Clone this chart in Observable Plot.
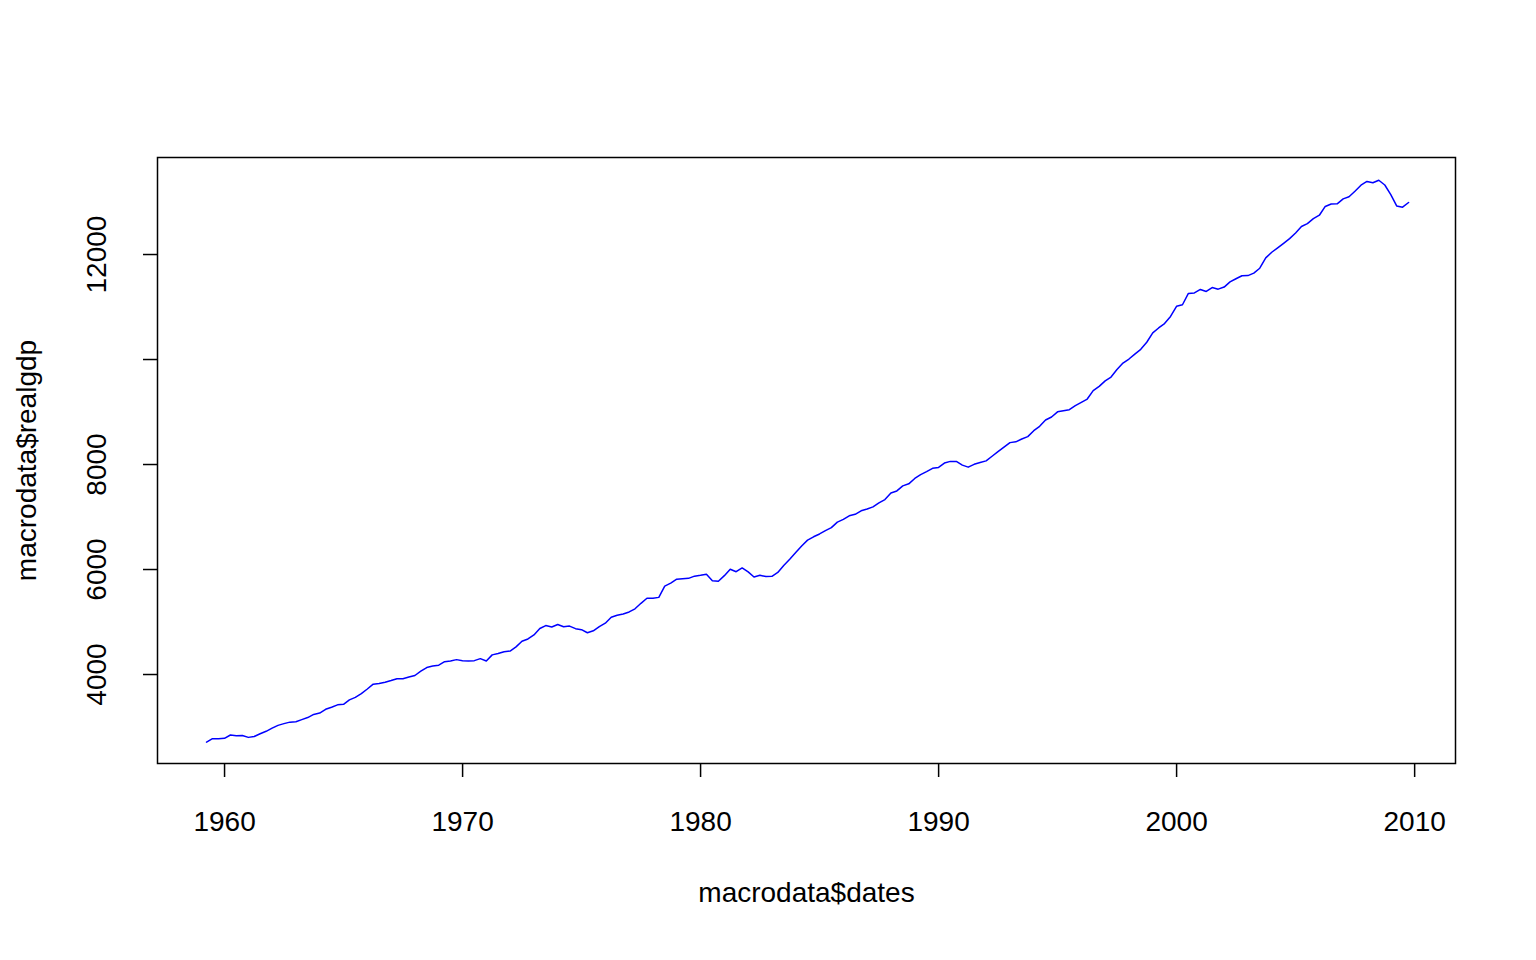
<!DOCTYPE html>
<html>
<head>
<meta charset="utf-8">
<script src="https://cdn.jsdelivr.net/npm/d3@7"></script>
<script src="https://cdn.jsdelivr.net/npm/@observablehq/plot@0.6"></script>
<style>
  body { margin: 0; background: #fff; }
  #chart svg { font-family: "Liberation Sans", Arial, sans-serif; }
</style>
</head>
<body>
<div id="chart"></div>
<script>
// quarterly real GDP, 1959Q1 .. 2009Q3
const realgdp = [
  2710.349, 2778.801, 2775.488, 2785.204,
  2847.699, 2834.39, 2839.022, 2802.616,
  2819.264, 2872.005, 2918.419, 2977.83,
  3031.241, 3064.709, 3093.047, 3100.563,
  3141.087, 3180.447, 3240.332, 3264.967,
  3338.246, 3376.587, 3422.469, 3431.957,
  3516.251, 3563.96, 3636.285, 3724.014,
  3815.423, 3828.124, 3853.301, 3884.52,
  3918.74, 3919.556, 3950.826, 3980.97,
  4063.013, 4131.998, 4160.267, 4178.293,
  4244.1, 4256.46, 4283.378, 4263.261,
  4256.573, 4264.289, 4302.259, 4256.637,
  4374.016, 4398.829, 4433.943, 4446.264,
  4525.769, 4633.101, 4677.503, 4754.546,
  4876.166, 4932.571, 4906.252, 4953.05,
  4909.617, 4922.188, 4873.52, 4854.34,
  4795.295, 4831.942, 4913.328, 4977.511,
  5090.695, 5128.947, 5154.072, 5191.499,
  5251.762, 5356.131, 5451.921, 5450.793,
  5469.405, 5684.569, 5740.3, 5816.222,
  5825.949, 5831.418, 5873.335, 5889.495,
  5908.467, 5787.373, 5776.617, 5883.026,
  6005.717, 5957.795, 6030.184, 5955.062,
  5857.333, 5889.074, 5866.37, 5871.001,
  5944.02, 6077.619, 6197.468, 6325.574,
  6448.264, 6559.594, 6623.343, 6677.264,
  6740.275, 6797.344, 6903.523, 6955.918,
  7022.757, 7050.969, 7118.95, 7153.359,
  7193.019, 7269.51, 7332.558, 7458.022,
  7496.6, 7592.881, 7632.082, 7733.991,
  7806.603, 7865.016, 7927.393, 7944.697,
  8027.693, 8059.598, 8059.476, 7988.864,
  7950.164, 8003.822, 8037.538, 8069.046,
  8157.616, 8244.294, 8329.361, 8417.016,
  8432.485, 8486.435, 8531.108, 8643.769,
  8727.919, 8847.303, 8904.289, 9003.18,
  9025.267, 9044.668, 9120.684, 9184.275,
  9247.188, 9407.052, 9488.879, 9592.458,
  9666.235, 9809.551, 9932.672, 10008.874,
  10103.425, 10194.277, 10328.787, 10507.575,
  10601.179, 10684.049, 10819.914, 11014.254,
  11043.044, 11258.454, 11267.867, 11334.544,
  11297.171, 11371.251, 11340.075, 11380.128,
  11477.868, 11538.77, 11596.43, 11598.824,
  11645.819, 11738.706, 11935.461, 12042.817,
  12127.623, 12213.818, 12303.533, 12410.282,
  12534.113, 12587.535, 12683.153, 12748.699,
  12915.938, 12962.462, 12965.916, 13060.679,
  13099.901, 13203.977, 13321.109, 13391.249,
  13366.865, 13415.266, 13324.6, 13141.92,
  12925.41, 12901.504, 12990.341
];
const startYear = 1959;
const xTicks = [1960, 1970, 1980, 1990, 2000, 2010];
const yTicks = [4000, 6000, 8000, 10000, 12000];

// quarter-end dates
const rows = realgdp.map((v, i) => ({
  date: new Date(Date.UTC(startYear + Math.floor(i / 4), (i % 4) * 3 + 3, 0)),
  value: v
}));

const chart = Plot.plot({
  width: 1536,
  height: 960,
  marginLeft: 157,
  marginRight: 81,
  marginTop: 157,
  marginBottom: 197,
  style: { fontSize: "28px", fontFamily: "Liberation Sans, Arial, sans-serif", color: "black" },
  x: { type: "utc", domain: [new Date(Date.UTC(1957, 2, 8)), new Date(Date.UTC(2011, 8, 20))] },
  y: { domain: [2305, 13848] },
  marks: [
    Plot.frame({ stroke: "black", strokeWidth: 1.5 }),
    Plot.axisX(xTicks.map(y => new Date(Date.UTC(y, 0, 1))), {
      tickFormat: d => String(d.getUTCFullYear()), tickSize: 14, tickPadding: 34,
      stroke: "black", strokeWidth: 1.5, label: null, fontSize: 28
    }),
    Plot.axisY(yTicks, {
      tickFormat: d => d === 10000 ? "" : String(d), tickSize: 14, tickRotate: -90,
      tickPadding: 38, stroke: "black", strokeWidth: 1.5, label: null, fontSize: 28,
      textAnchor: "middle"
    }),
    Plot.line(rows, { x: "date", y: "value", stroke: "blue", strokeWidth: 1.5 }),
    Plot.text(["macrodata$dates"], { frameAnchor: "bottom", dy: 138, fontSize: 28 }),
    Plot.text(["macrodata$realgdp"], { frameAnchor: "left", dx: -130, rotate: -90, fontSize: 28, textAnchor: "middle" })
  ]
});
document.getElementById("chart").appendChild(chart);
</script>
</body>
</html>
